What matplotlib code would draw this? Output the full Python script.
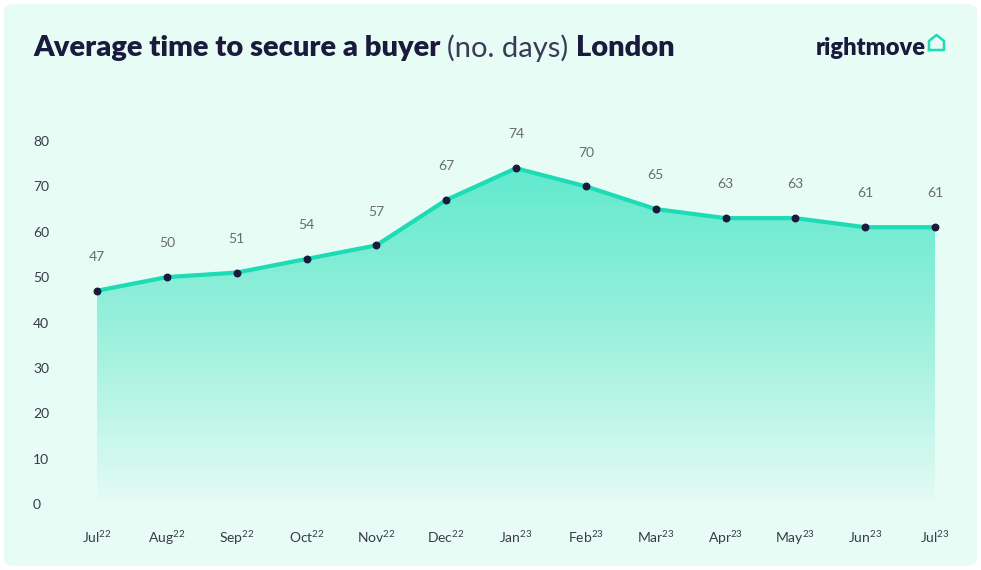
import matplotlib
matplotlib.use("Agg")
import matplotlib.pyplot as plt
import numpy as np
from matplotlib.patches import FancyBboxPatch, Polygon
from matplotlib.colors import LinearSegmentedColormap
from matplotlib.lines import Line2D

months = ["Jul", "Aug", "Sep", "Oct", "Nov", "Dec", "Jan", "Feb", "Mar", "Apr", "May", "Jun", "Jul"]
years = ["22", "22", "22", "22", "22", "22", "23", "23", "23", "23", "23", "23", "23"]
days = [47, 50, 51, 54, 57, 67, 74, 70, 65, 63, 63, 61, 61]
yticks = [0, 10, 20, 30, 40, 50, 60, 70, 80]

plt.rcParams['mathtext.fontset'] = 'custom'
plt.rcParams['mathtext.rm'] = 'Lato'
plt.rcParams['mathtext.it'] = 'Lato'
plt.rcParams['mathtext.bf'] = 'Lato:bold'

W, H = 981, 570
fig = plt.figure(figsize=(W / 100, H / 100), dpi=100)
fig.patch.set_facecolor('white')

BG = '#e6fcf5'
NAVY = '#1b1a3c'
TEAL = '#1ddbb4'

bg = FancyBboxPatch((4 / W, 4 / H), (W - 8) / W, (H - 8) / H,
                    boxstyle="round,pad=0,rounding_size=0.012",
                    transform=fig.transFigure, facecolor=BG, edgecolor='none', zorder=-10)
fig.patches.append(bg)

ax = fig.add_axes([97 / W, (H - 504) / H, (935 - 97) / W, (504 - 141) / H], zorder=5)
ax.set_facecolor('none')
ax.set_xlim(0, 12)
ax.set_ylim(0, 80)
for s in ax.spines.values():
    s.set_visible(False)

x = np.arange(len(days))
y = np.array(days, dtype=float)

# gradient fill under the line
cmap = LinearSegmentedColormap.from_list('g', ['#e3fbf4', '#9af0dc', '#5de9cd'])
grad = np.linspace(0, 1, 256).reshape(-1, 1)
im = ax.imshow(grad, aspect='auto', cmap=cmap, origin='lower',
               extent=[0, 12, 0.8, 76], zorder=1)
verts = [(0, 0.8)] + list(zip(x, y)) + [(12, 0.8)]
poly = Polygon(verts, closed=True, transform=ax.transData, facecolor='none', edgecolor='none')
ax.add_patch(poly)
im.set_clip_path(poly)

ax.plot(x, y, color=TEAL, lw=3, zorder=3, solid_capstyle='round', clip_on=False)
ax.scatter(x, y, s=22, color=NAVY, zorder=4, clip_on=False)

for xi, yi in zip(x, y):
    ax.annotate(str(int(yi)), (xi, yi), xytext=(0, 20), textcoords='offset points',
                ha='center', va='bottom', fontsize=10, color='#6b6b72', family='Lato')

ax.set_yticks(yticks)
ax.set_yticklabels([str(t) for t in yticks], fontsize=10, color='#3a3a48', family='Lato')
ax.tick_params(axis='y', length=0, pad=46)
for lab in ax.get_yticklabels():
    lab.set_horizontalalignment('left')

ax.set_xticks(x)
ax.set_xticklabels([f"{m}$^{{{yr}}}$" for m, yr in zip(months, years)],
                   fontsize=10, color='#3a3a48', family='Lato')
ax.tick_params(axis='x', length=0, pad=18)

# title
fig.canvas.draw()
r = fig.canvas.get_renderer()
tx = 33 / W
ty = (H - 48) / H
parts = [("Average time to secure a buyer ", 'heavy', NAVY),
         ("(no. days) ", 'normal', '#3a3a55'),
         ("London", 'heavy', NAVY)]
for txt, wgt, col in parts:
    t = fig.text(tx, ty, txt, fontsize=21, fontweight=wgt, color=col, family='Lato',
                 va='center', ha='left')
    bb = t.get_window_extent(renderer=r)
    tx += bb.width / W

# logo
fig.text(926 / W, (H - 48) / H, "rightmove", fontsize=17, fontweight='heavy', color=NAVY,
         family='Lato', ha='right', va='center')
hx = [929, 929, 936.5, 944, 944, 929]
hy = [50, 41, 35, 41, 50, 50]
fig.add_artist(Line2D([v / W for v in hx], [(H - v) / H for v in hy],
                      transform=fig.transFigure, color=TEAL, lw=1.8,
                      solid_joinstyle='round'))

fig.savefig('out.png', dpi=100, facecolor='white')
